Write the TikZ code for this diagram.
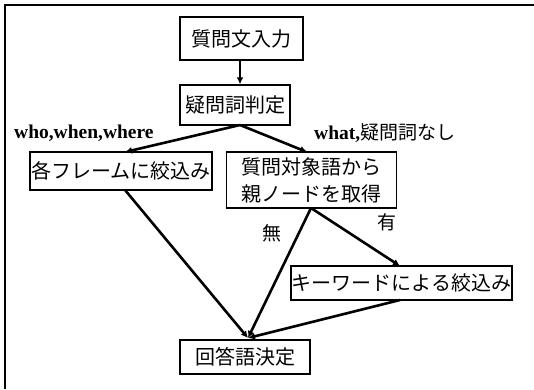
\documentclass[tikz,border=0pt]{standalone}
\usepackage{fontspec}
\setmainfont{Liberation Serif}
\newfontfamily\jp{Noto Sans CJK JP}
\usetikzlibrary{arrows.meta}
\begin{document}
\begin{tikzpicture}[x=1pt,y=-1pt,
  box/.style={draw,line width=1.5pt,inner sep=0pt,align=center,font=\jp\fontsize{20}{27}\selectfont},
  conn/.style={line width=2.6pt,-{Latex[length=7pt,width=7pt]}},
  lab/.style={inner sep=0pt,font=\fontsize{19.5}{22}\selectfont\bfseries}]
\useasboundingbox (0,0) rectangle (534,389);
\draw[line width=1.8pt] (5,389) -- (5,5) -- (534,5);
\node[box,minimum width=123pt,minimum height=43pt] (b1) at (241.5,38.5) {質問文入力};
\node[box,minimum width=110pt,minimum height=40pt] (b2) at (235,105) {疑問詞判定};
\node[box,minimum width=182pt,minimum height=38pt] (b3) at (121,171) {各フレームに絞込み};
\node[box,minimum width=170pt,minimum height=56pt] (b4) at (311.5,180) {質問対象語から\\親ノードを取得};
\node[box,minimum width=221pt,minimum height=34pt] (b5) at (401.5,283) {キーワードによる絞込み};
\node[box,minimum width=130pt,minimum height=34pt] (b6) at (245,357) {回答語決定};
\coordinate (s2) at (240,125);
\coordinate (t3) at (125,152);
\coordinate (t4) at (307,152);
\coordinate (s3) at (125,190);
\coordinate (s4) at (311,208);
\coordinate (t5) at (400,266);
\coordinate (s5) at (400,300);
\coordinate (m) at (248,338);
\draw[conn] (b1.south -| 240,0) -- (b2.north -| 240,0);
\draw[conn] (s2) -- (t3);
\draw[conn] (s2) -- (t4);
\draw[conn] (s3) -- (m);
\draw[conn] (s4) -- (m);
\draw[conn] (s4) -- (t5);
\draw[conn] (s5) -- (m);
\node[lab,anchor=west] (l1) at (14,133) {who,when,where};
\node[lab,anchor=west] (l2) at (314,133) {what,{\jp\mdseries\fontsize{19}{22}\selectfont 疑問詞なし}};
\node[lab,font=\jp\fontsize{19}{20}\selectfont] (l3) at (272,233) {無};
\node[lab,font=\jp\fontsize{19}{20}\selectfont] (l4) at (387,222) {有};
\end{tikzpicture}
\end{document}
